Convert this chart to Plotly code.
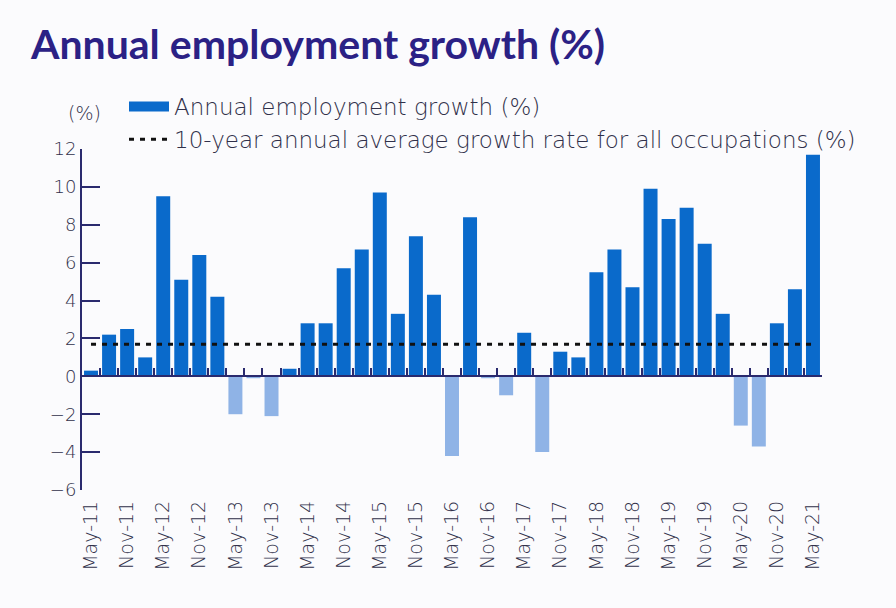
import plotly.graph_objects as go

# ---------------- data ----------------
quarters = []
for yr in range(11, 22):
    for m in ["Feb", "May", "Aug", "Nov"]:
        quarters.append(f"{m}-{yr}")
quarters = quarters[quarters.index("May-11"):quarters.index("May-21") + 1]

growth = [0.3, 2.2, 2.5, 1.0, 9.5, 5.1, 6.4, 4.2, -2.0, -0.1, -2.1, 0.4,
          2.8, 2.8, 5.7, 6.7, 9.7, 3.3, 7.4, 4.3, -4.2, 8.4, -0.1, -1.0,
          2.3, -4.0, 1.3, 1.0, 5.5, 6.7, 4.7, 9.9, 8.3, 8.9, 7.0, 3.3,
          -2.6, -3.7, 2.8, 4.6, 11.7]
avg_rate = 1.7
tick_labels = [q for q in quarters if q.startswith("May") or q.startswith("Nov")]

# ---------------- styling ----------------
POS = "#0a6acb"
NEG = "#8fb3e6"
NAVY = "#2a2a6e"
TXT = "#30304a"
BG = "#fbfbfd"
FONT = "DejaVu Sans"

bar_colors = [POS if v >= 0 else NEG for v in growth]

fig = go.Figure()

# legend proxy for the bars (wide swatch)
fig.add_trace(go.Scatter(
    x=[None], y=[None], mode="lines", name="Annual employment growth (%)",
    line=dict(color=POS, width=14), legendgroup="a", hoverinfo="skip"))

fig.add_trace(go.Bar(
    x=quarters, y=growth, marker=dict(color=bar_colors, line=dict(width=0)),
    showlegend=False, name="Annual employment growth (%)"))

fig.add_trace(go.Scatter(
    x=quarters, y=[avg_rate] * len(quarters), mode="lines",
    name="10-year annual average growth rate for all occupations (%)",
    line=dict(color="#111111", width=3, dash="5px,6px"),
    xaxis="x2", legendgroup="b"))

L, R, T, B = 82, 74, 149, 118
W, H = 896, 608
pw, ph = W - L - R, H - T - B

fig.update_layout(
    width=W, height=H,
    margin=dict(l=L, r=R, t=T, b=B),
    paper_bgcolor=BG, plot_bgcolor=BG,
    bargap=0.225,
    title=dict(text="<b>Annual employment growth (%)</b>",
               x=31 / W, xanchor="left", y=1 - 45 / H, yanchor="middle",
               font=dict(family="Lato", size=41, color="#2b2185", weight=900)),
    xaxis=dict(type="category", categoryorder="array", categoryarray=quarters,
               range=[-0.5, len(quarters) - 0.5],
               tickmode="array", tickvals=tick_labels, ticktext=tick_labels,
               tickangle=-90, showline=False, ticks="", showgrid=False,
               zeroline=False, ticklabelstandoff=6,
               tickfont=dict(family=FONT, size=19, color=TXT, weight=200)),
    xaxis2=dict(type="category", overlaying="x", matches="x", anchor="free",
                position=6 / 18, side="bottom",
                tickmode="array", tickvals=quarters, tickson="boundaries",
                ticks="inside", ticklen=7, tickwidth=2, tickcolor=NAVY,
                showticklabels=False, showline=True, linecolor=NAVY,
                linewidth=2, showgrid=False, zeroline=False),
    yaxis=dict(range=[-6, 12], dtick=2, tick0=0, ticks="inside", ticklen=18,
               tickwidth=2, tickcolor=NAVY, showline=True, linecolor=NAVY,
               linewidth=2, showgrid=False, zeroline=False,
               tickfont=dict(family=FONT, size=18, color=TXT, weight=200)),
    legend=dict(x=(124 - L) / pw, xanchor="left", y=1 + (T - 85) / ph,
                yanchor="top", orientation="v", traceorder="grouped",
                tracegroupgap=0, itemwidth=40, bgcolor="rgba(0,0,0,0)",
                font=dict(family=FONT, size=23, color=TXT, weight=200)),
    annotations=[dict(text="(%)", xref="paper", yref="paper",
                      x=(66 - L) / pw, xanchor="left",
                      y=1 + (T - 113) / ph, yanchor="middle", showarrow=False,
                      font=dict(family=FONT, size=19, color=TXT, weight=200))],
    showlegend=True,
)

fig.write_html("out.html")
